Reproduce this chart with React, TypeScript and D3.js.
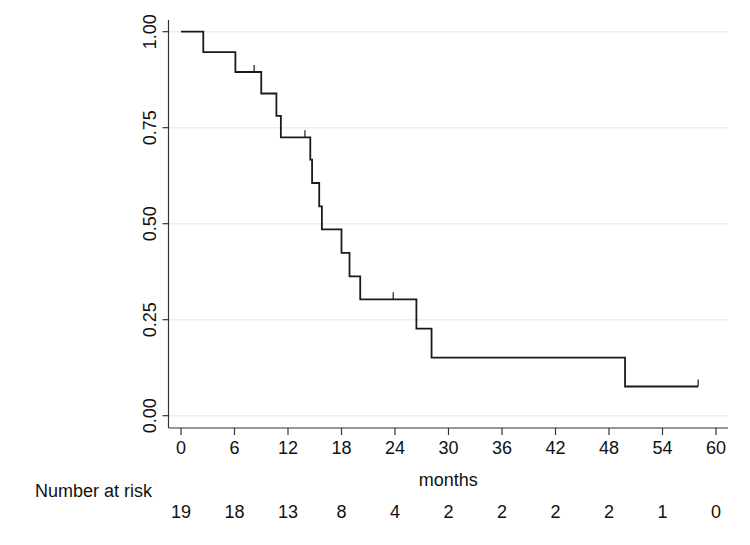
import * as d3 from 'd3';
import React from 'react';

// Kaplan-Meier estimate
const stepTimes = [0, 2.5, 6.1, 9.0, 10.7, 11.2, 14.5, 14.7, 15.5, 15.8, 18.0, 18.9, 20.1, 26.4, 28.1, 49.8];
const stepSurv = [1, 0.947, 0.895, 0.839, 0.781, 0.725, 0.667, 0.606, 0.545, 0.485, 0.424, 0.363, 0.303, 0.227, 0.151, 0.076];
const censorTimes = [8.2, 13.9, 23.8, 58.0];
const lastTime = 58.0;

const xTicks = [0, 6, 12, 18, 24, 30, 36, 42, 48, 54, 60];
const yTicks = [0, 0.25, 0.5, 0.75, 1];
const atRisk = [19, 18, 13, 8, 4, 2, 2, 2, 2, 1, 0];

const W = 750, H = 545;
const font = '"Liberation Sans", Arial, Helvetica, sans-serif';
const fs = 18;

export default function App() {
    const x = d3.scaleLinear().domain([0, 60]).range([181, 716]);
    const y = d3.scaleLinear().domain([0, 1]).range([415.7, 31.7]);

    const axisLeft = 168.5, axisBottom = 428, axisTop = 20, axisRight = 728;

    const pts: [number, number][] = stepTimes.map((t, i) => [t, stepSurv[i]]);
    pts.push([lastTime, stepSurv[stepSurv.length - 1]]);

    const line = d3.line<[number, number]>()
        .x(d => x(d[0]))
        .y(d => y(d[1]))
        .curve(d3.curveStepAfter);

    const survAt = (t: number) => {
        const i = d3.bisectRight(stepTimes, t) - 1;
        return stepSurv[Math.max(0, i)];
    };

    return (
        <svg width={W} height={H} style={{ position: 'absolute', left: 0, top: 0, background: '#fff' }}
            fontFamily={font}>
            {/* gridlines */}
            {yTicks.map(v => (
                <line key={'g' + v} x1={axisLeft} x2={axisRight} y1={y(v)} y2={y(v)}
                    stroke="#e6eff3" strokeWidth={1.5} />
            ))}

            {/* y axis */}
            <line x1={axisLeft} x2={axisLeft} y1={axisTop} y2={axisBottom} stroke="#333" strokeWidth={1.2} />
            {yTicks.map(v => (
                <g key={'y' + v}>
                    <line x1={axisLeft - 6} x2={axisLeft} y1={y(v)} y2={y(v)} stroke="#333" strokeWidth={1.2} />
                    <text transform={`translate(${axisLeft - 13},${y(v)}) rotate(-90)`}
                        textAnchor="middle" fontSize={fs} fill="#111">{d3.format('.2f')(v)}</text>
                </g>
            ))}

            {/* x axis */}
            <line x1={axisLeft} x2={axisRight} y1={axisBottom} y2={axisBottom} stroke="#333" strokeWidth={1.2} />
            {xTicks.map(v => (
                <g key={'x' + v}>
                    <line x1={x(v)} x2={x(v)} y1={axisBottom} y2={axisBottom + 7} stroke="#333" strokeWidth={1.2} />
                    <text x={x(v)} y={454} textAnchor="middle" fontSize={fs} fill="#111">{v}</text>
                </g>
            ))}
            <text x={(axisLeft + axisRight) / 2} y={485.5} textAnchor="middle" fontSize={fs} fill="#111">months</text>

            {/* number at risk */}
            <text x={35} y={497} fontSize={fs} fill="#111">Number at risk</text>
            {atRisk.map((n, i) => (
                <text key={'r' + i} x={x(xTicks[i])} y={518} textAnchor="middle" fontSize={fs} fill="#111">{n}</text>
            ))}

            {/* survival curve */}
            <path d={line(pts) || ''} fill="none" stroke="#1a1a1a" strokeWidth={1.8} />
            {censorTimes.map(t => (
                <line key={'c' + t} x1={x(t)} x2={x(t)} y1={y(survAt(t))} y2={y(survAt(t)) - 7}
                    stroke="#1a1a1a" strokeWidth={1.2} />
            ))}
        </svg>
    );
}
